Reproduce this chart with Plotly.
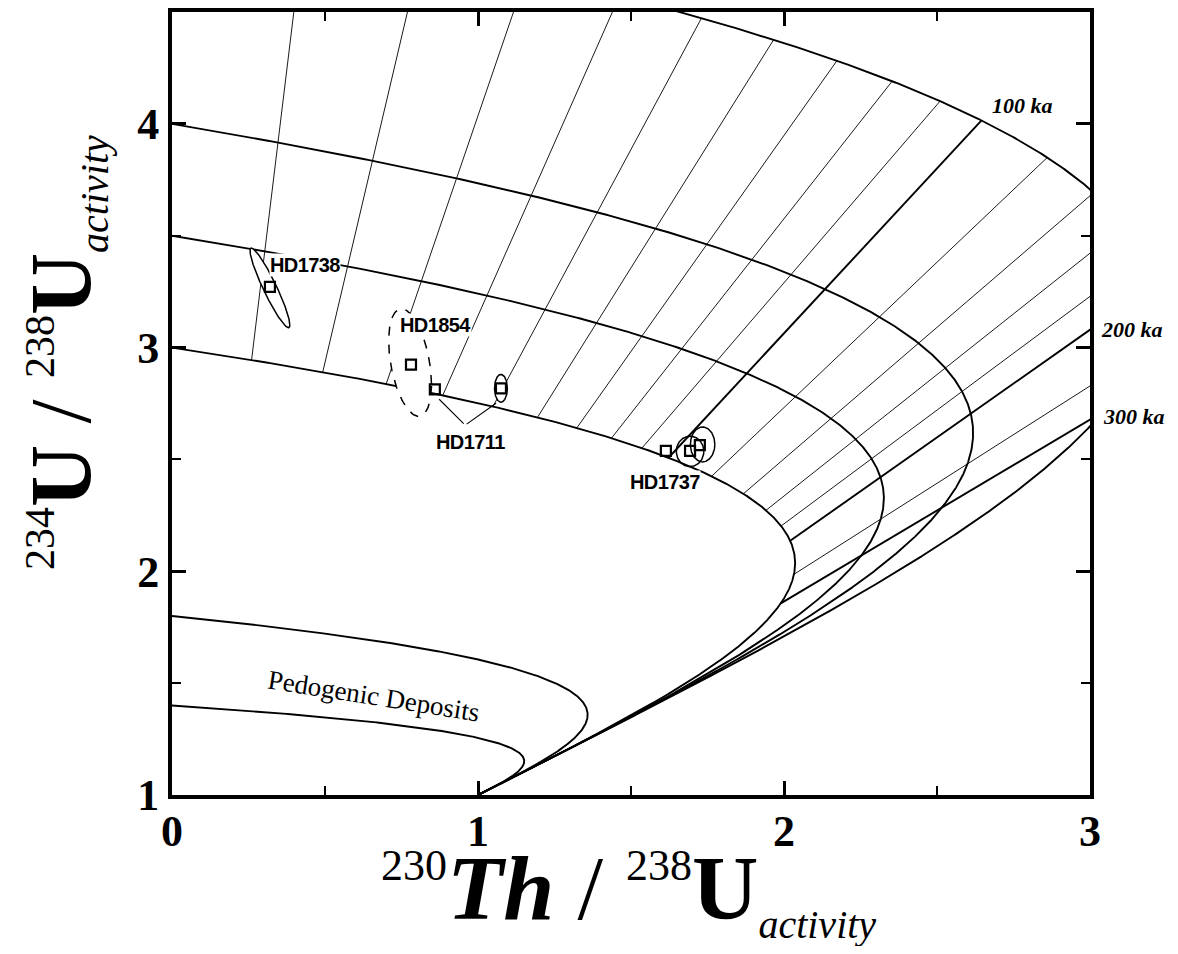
import numpy as np
import plotly.graph_objects as go

# decay constants, 1/ka
LAMBDA_230 = 9.1577e-3
LAMBDA_234 = 2.8263e-3

# initial 234U/238U activity ratios of the growth curves
growth_initial = [5.0, 4.0, 3.5, 3.0]
pedogenic_initial = [1.8, 1.4]

# isochron ages (ka), drawn from the 3.0 to the 5.0 growth curve
thin_isochron_ages = [10, 20, 30, 40, 50, 60, 70, 80, 90, 120, 140, 160, 180, 250]
bold_isochron_ages = [100, 200, 300]
isochron_span = [3.0, 5.0]

# measured samples
sample_x = [0.320, 0.781, 0.859, 1.075, 1.614, 1.693, 1.725]
sample_y = [3.271, 2.924, 2.813, 2.818, 2.538, 2.538, 2.564]

# 2-sigma error ellipses: centre, half width, half height, correlation
ell_x = [0.320, 0.778, 1.075, 1.693, 1.734]
ell_y = [3.267, 2.933, 2.818, 2.536, 2.567]
ell_sx = [0.065, 0.070, 0.021, 0.045, 0.040]
ell_sy = [0.178, 0.240, 0.062, 0.068, 0.078]
ell_rho = [-0.93, -0.40, 0.0, 0.0, 0.0]
ell_dash = ["solid", "dash", "solid", "solid", "solid"]
ell_white = [True, True, True, False, False]

# sample labels
label_text = ["HD1738", "HD1854", "HD1711", "HD1737"]
label_x = [0.435, 0.862, 0.977, 1.611]
label_y = [3.369, 3.102, 2.578, 2.400]

# leader lines of HD1711 (from the vertex to each analysis)
leader_from = (0.958, 2.653)
leader_to_x = [0.873, 1.059]
leader_to_y = [2.769, 2.751]

# age labels (the last two sit outside the frame)
age_text = ["100 ka", "200 ka", "300 ka"]
age_x = [2.78, 3.137, 3.144]
age_y = [4.08, 3.08, 2.693]

X_MAX = 3.0
SERIF = "Liberation Serif, Times New Roman, serif"
NARROW = "Liberation Sans, Arial, sans-serif"


def activity(d0, t):
    """234U/238U and 230Th/238U after t ka for initial ratio d0."""
    t = np.asarray(t, dtype=float)
    u = 1 + (d0 - 1) * np.exp(-LAMBDA_234 * t)
    k = LAMBDA_230 / (LAMBDA_230 - LAMBDA_234)
    th = 1 - np.exp(-LAMBDA_230 * t) + (u - 1) * k * (1 - np.exp(-(LAMBDA_230 - LAMBDA_234) * t))
    return th, u


def sup(txt, size):
    return "<sup><span style='font-size:%dpx'>%s</span></sup>" % (size, txt)


def sub(txt, size):
    return "<sub><span style='font-size:%dpx'><i>%s</i></span></sub>" % (size, txt)


fig = go.Figure()
t_grid = np.linspace(0, 3000, 6001)

for d0 in growth_initial + pedogenic_initial:
    gx, gy = activity(d0, t_grid)
    fig.add_trace(go.Scatter(x=gx, y=gy, mode="lines",
                             line=dict(color="black", width=1.9),
                             hoverinfo="skip", showlegend=False))

for ages, width in [(thin_isochron_ages, 0.9), (bold_isochron_ages, 1.9)]:
    for age in ages:
        ix, iy = [], []
        for d0 in isochron_span:
            px, py = activity(d0, age)
            ix.append(float(px))
            iy.append(float(py))
        fig.add_trace(go.Scatter(x=ix, y=iy, mode="lines",
                                 line=dict(color="black", width=width),
                                 hoverinfo="skip", showlegend=False))

theta = np.linspace(0, 2 * np.pi, 181)
for cx, cy, sx, sy, rho, dash, white in zip(ell_x, ell_y, ell_sx, ell_sy, ell_rho, ell_dash, ell_white):
    ex = cx + sx * np.cos(theta)
    ey = cy + sy * (rho * np.cos(theta) + np.sqrt(1 - rho ** 2) * np.sin(theta))
    fig.add_trace(go.Scatter(x=ex, y=ey, mode="lines",
                             fill="toself" if white else "none", fillcolor="white",
                             line=dict(color="black", width=1.5, dash=dash),
                             hoverinfo="skip", showlegend=False))

fig.add_trace(go.Scatter(x=sample_x, y=sample_y, mode="markers",
                         marker=dict(symbol="square-open", size=10, color="black",
                                     line=dict(color="black", width=2.2)),
                         showlegend=False))

for tx, ty in zip(leader_to_x, leader_to_y):
    fig.add_annotation(x=tx, y=ty, ax=leader_from[0], ay=leader_from[1],
                       axref="x", ayref="y", text="", showarrow=True,
                       arrowhead=0, arrowwidth=1.1, arrowcolor="black")

for txt, lx, ly in zip(label_text, label_x, label_y):
    fig.add_annotation(x=lx, y=ly,
                       text="<span style='letter-spacing:-0.6px'><b>" + txt + "</b></span>",
                       showarrow=False,
                       font=dict(family=NARROW, size=20, color="black"),
                       bgcolor="white", borderpad=0)

# paper x so the labels beyond the right frame are still drawn
for txt, lx, ly in zip(age_text, age_x, age_y):
    fig.add_annotation(xref="paper", x=lx / X_MAX, y=ly, xanchor="center",
                       text="<b><i>" + txt + "</i></b>",
                       showarrow=False, font=dict(family=SERIF, size=22, color="black"))

fig.add_annotation(x=0.66, y=1.444, text="Pedogenic Deposits", showarrow=False,
                   textangle=9, font=dict(family=SERIF, size=27, color="black"))

# axis titles
fig.add_annotation(xref="paper", yref="paper", x=0.497, y=-0.197,
                   text=sup("230", 44) + "<b><i>Th</i></b> / " + sup("238", 44) + "<b>U</b>" + sub("activity", 40),
                   showarrow=False, font=dict(family=SERIF, size=92, color="black"))
fig.add_annotation(xref="paper", yref="paper", x=-0.176, y=0.565, textangle=-90,
                   text=sup("234", 42) + "<b>U</b> / " + sup("238", 42) + "<b>U</b>" + sub("activity", 40),
                   showarrow=False, font=dict(family=SERIF, size=86, color="black"))

axis_common = dict(showgrid=False, zeroline=False, showline=True, linewidth=4,
                   linecolor="black", mirror="ticks", ticks="inside", ticklen=14,
                   tickwidth=3, tickcolor="black",
                   tickfont=dict(family=SERIF, size=44, color="black", weight="bold"))

fig.update_xaxes(range=[0, X_MAX], dtick=1, tick0=0, ticklabelstandoff=-6,
                 minor=dict(dtick=0.5, ticks="inside", ticklen=9, tickwidth=2, tickcolor="black"),
                 **axis_common)
fig.update_yaxes(range=[1, 4.5], dtick=1, tick0=0,
                 minor=dict(dtick=0.5, ticks="inside", ticklen=9, tickwidth=2, tickcolor="black"),
                 **axis_common)

# the page puts the figure 8 px in from the corner
fig.update_layout(width=1162, height=938, plot_bgcolor="white", paper_bgcolor="white",
                  margin=dict(l=164, r=80, t=0, b=151), showlegend=False)

fig.write_html("out.html")
